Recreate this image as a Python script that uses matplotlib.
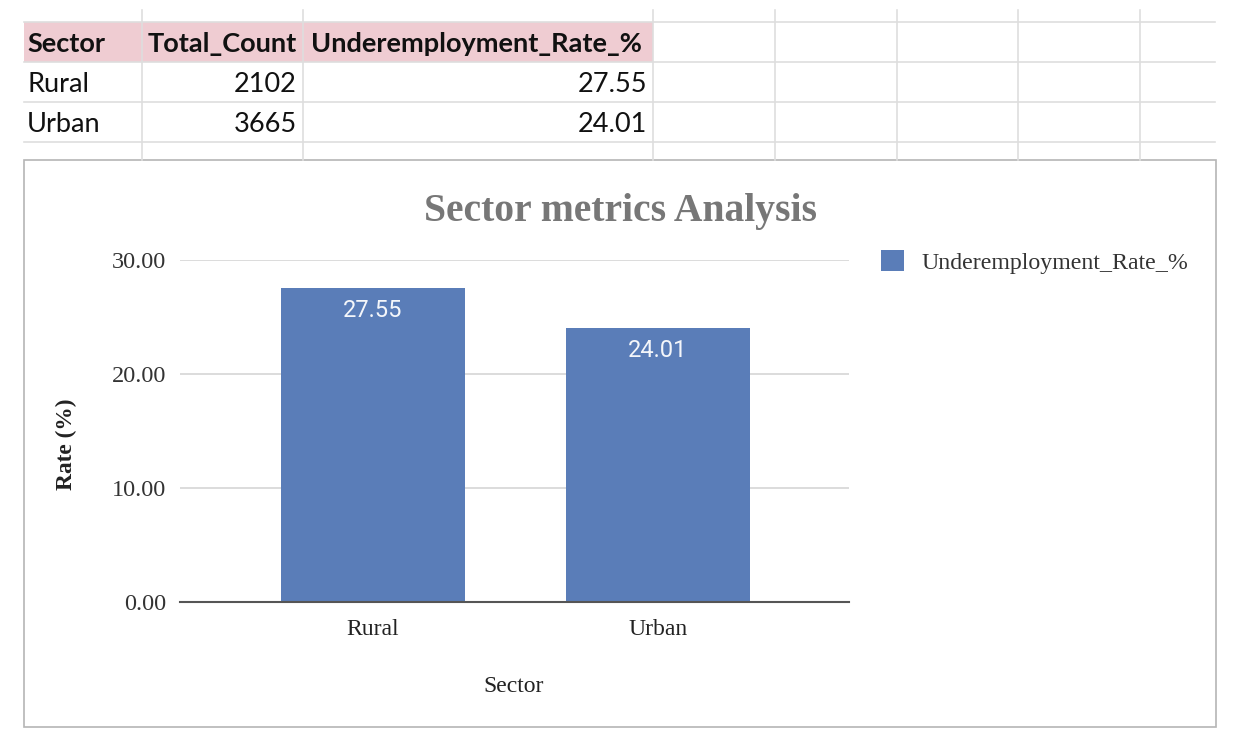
import matplotlib
matplotlib.use("Agg")
import matplotlib.pyplot as plt
from matplotlib.patches import Rectangle
from matplotlib.lines import Line2D

# ---- data ----
sectors = ["Rural", "Urban"]
total_count = [2102, 3665]
under_rate = [27.55, 24.01]
header = ["Sector", "Total_Count", "Underemployment_Rate_%"]
series_name = "Underemployment_Rate_%"
title = "Sector metrics Analysis"
y_ticks = [0, 10, 20, 30]

W, H = 1236, 743
fig = plt.figure(figsize=(W / 100, H / 100), dpi=100)
fig.patch.set_facecolor("white")

def fx(px):
    return px / W

def fy(py):
    return 1 - py / H

# ---- spreadsheet grid ----
grid_c = "#dedede"
fig.patches.append(Rectangle((fx(24), fy(62)), fx(653) - fx(24), fy(22) - fy(62),
                             transform=fig.transFigure, facecolor="#efccd2",
                             edgecolor="none", zorder=0))
for yy in [22, 62, 102, 142]:
    fig.add_artist(Line2D([fx(24), fx(1215)], [fy(yy), fy(yy)], color=grid_c, lw=1.2))
for xx in [142, 303, 653, 775, 897, 1018, 1140]:
    fig.add_artist(Line2D([fx(xx), fx(xx)], [fy(10), fy(160)], color=grid_c, lw=1.2))

tfont = ["Lato", "DejaVu Sans"]
ts = 19.5
fig.text(fx(27), fy(44), header[0], ha="left", va="center", fontsize=ts,
         fontweight="bold", family=tfont, color="#111")
fig.text(fx(148), fy(44), header[1], ha="left", va="center", fontsize=ts,
         fontweight="bold", family=tfont, color="#111")
fig.text(fx(311), fy(44), header[2], ha="left", va="center", fontsize=ts,
         fontweight="bold", family=tfont, color="#111")
for i, (s, c, r) in enumerate(zip(sectors, total_count, under_rate)):
    yc = fy(85 + 40 * i)
    fig.text(fx(27), yc, s, ha="left", va="center", fontsize=ts, family=tfont, color="#111")
    fig.text(fx(297), yc, f"{c}", ha="right", va="center", fontsize=ts, family=tfont, color="#111")
    fig.text(fx(647), yc, f"{r:.2f}", ha="right", va="center", fontsize=ts, family=tfont, color="#111")

# ---- chart frame ----
fig.patches.append(Rectangle((fx(24), fy(727)), fx(1216) - fx(24), fy(160) - fy(727),
                             transform=fig.transFigure, facecolor="white",
                             edgecolor="#b5b5b5", lw=1.2, zorder=1))

# ---- chart ----
ax = fig.add_axes([fx(180), fy(602), fx(849) - fx(180), fy(260) - fy(602)])
ax.set_zorder(2)
ax.patch.set_alpha(0)
bar_color = "#5a7db8"
xpos = list(range(len(sectors)))
bars = ax.bar(xpos, under_rate, width=0.646, color=bar_color, label=series_name, zorder=3)
ax.set_xlim(-0.677, 1.670)
ax.set_ylim(0, 30)
ax.set_yticks(y_ticks)
ax.set_yticklabels([f"{v:.2f}" for v in y_ticks])
ax.set_xticks(xpos)
ax.set_xticklabels(sectors)
serif = ["Liberation Serif", "DejaVu Serif"]
for lab in ax.get_yticklabels():
    lab.set_family(serif)
    lab.set_fontsize(17.5)
    lab.set_color("#333333")
for lab in ax.get_xticklabels():
    lab.set_family(serif)
    lab.set_fontsize(17)
    lab.set_color("#222222")
ax.tick_params(axis="y", length=0, pad=10)
ax.tick_params(axis="x", length=0, pad=12)
ax.yaxis.grid(True, color="#d6d6d6", lw=1.2, zorder=0)
ax.set_axisbelow(True)
for sp in ["top", "right", "left"]:
    ax.spines[sp].set_visible(False)
ax.spines["bottom"].set_color("#555555")
ax.spines["bottom"].set_linewidth(1.5)
ax.spines["bottom"].set_zorder(4)

for b, v in zip(bars, under_rate):
    ax.annotate(f"{v:.2f}", (b.get_x() + b.get_width() / 2, v), xytext=(0, -16),
                textcoords="offset points", ha="center", va="center",
                fontsize=17, family=["Roboto", "DejaVu Sans"], color="#f4f6fa", zorder=5)

fig.text(fx(620), fy(211), title, ha="center", va="center", fontsize=28.5,
         fontweight="bold", family=serif, color="#777777", zorder=5)
fig.text(fx(514), fy(686), "Sector", ha="center", va="center", fontsize=17,
         family=serif, color="#222222", zorder=5)
fig.text(fx(66), fy(444), "Rate (%)", ha="center", va="center", rotation=90,
         fontsize=16.8, fontweight="bold", family=serif, color="#222222", zorder=5)

leg = ax.legend(loc="upper left", bbox_to_anchor=(fx(881), fy(250)),
                bbox_transform=fig.transFigure, frameon=False,
                handlelength=0.95, handleheight=0.95, handletextpad=0.75,
                borderpad=0, borderaxespad=0,
                prop={"family": serif, "size": 17.2})
for t in leg.get_texts():
    t.set_color("#333333")

fig.savefig("out.png", dpi=100, facecolor="white")
